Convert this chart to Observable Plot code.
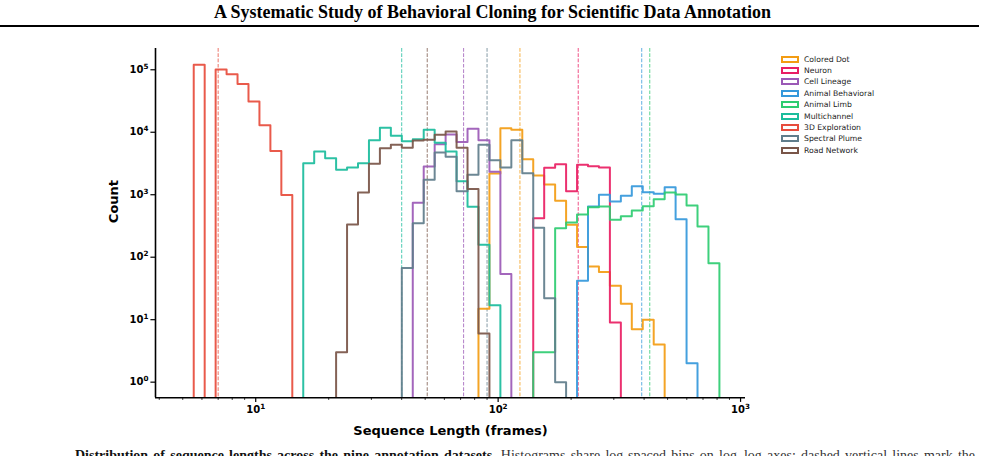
<!DOCTYPE html>
<html>
<head>
<meta charset="utf-8">
<script src="https://cdn.jsdelivr.net/npm/d3@7"></script>
<script src="https://cdn.jsdelivr.net/npm/@observablehq/plot@0.6"></script>
<style>
  html, body { margin: 0; padding: 0; background: #fff; }
  body { width: 985px; height: 456px; overflow: hidden; position: relative; font-family: "DejaVu Sans", sans-serif; }
  #title { position: absolute; left: 0; top: 2px; width: 985px; text-align: center; font: bold 18px "Liberation Serif", "Times New Roman", serif; color: #000; }
  #rule { position: absolute; left: 0; top: 25px; width: 979px; height: 2px; background: #000; }
  #chart { position: absolute; left: 0; top: 40px; }
  #legend { position: absolute; left: 0; top: 0; }
  .lg-box { position: absolute; box-sizing: border-box; width: 17.7px; height: 7px; border: 2px solid; background: #fff; }
  .lg-txt { position: absolute; font-size: 7.7px; line-height: 9px; color: #222; white-space: nowrap; }
  #caption { position: absolute; left: 75px; top: 448px; width: 900px; text-align: justify; font: 14px/16px "Liberation Serif", serif; color: #333; }
  #caption b { color: #111; }
  #chart svg g[aria-label="x-axis tick label"] text,
  #chart svg g[aria-label="y-axis tick label"] text { font-weight: bold; }
</style>
</head>
<body>
<div id="title">A Systematic Study of Behavioral Cloning for Scientific Data Annotation</div>
<div id="rule"></div>
<div id="chart"></div>
<div id="legend"></div>
<div id="caption"><b>Distribution of sequence lengths across the nine annotation datasets.</b> Histograms share log-spaced bins on log–log axes; dashed vertical lines mark the median sequence length of each dataset.</div>
<script>
// Datasets, in legend order
const names = ["Colored Dot", "Neuron", "Cell Lineage", "Animal Behavioral", "Animal Limb",
               "Multichannel", "3D Exploration", "Spectral Plume", "Road Network"];
const colors = ["#f39c12", "#e91e63", "#9b59b6", "#3498db", "#2ecc71",
                "#1abc9c", "#e74c3c", "#607d8b", "#795548"];

// Shared log-spaced bins (frames)
const binEdgeMin = 5.55;
const binEdgeMax = 818;
const binTotal = 48;

// Index of the first occupied bin for each dataset
const firstBin = [26, 31, 20, 35, 31, 10, 0, 19, 13];

// Median sequence length (frames) per dataset
const medians = [123, 214, 72, 391, 422, 40, 7, 90, 51];

// Per-bin counts, starting at firstBin
const coloredDotCounts = [15, 2190, 11600, 10960, 3710, 2030, 1460, 800, 331, 145, 71, 58, 35, 18, 7, 10, 4];
const neuronCounts = [422, 2700, 3080, 1140, 3010, 2860, 2730, 9];
const cellLineageCounts = [743, 2830, 6450, 9200, 6950, 11370, 7470, 2330, 54];
const animalBehavioralCounts = [42, 650, 998, 780, 962, 1370, 1100, 1035, 1320, 406, 2];
const animalLimbCounts = [3, 3, 292, 360, 483, 632, 649, 397, 454, 560, 656, 849, 1090, 1010, 673, 311, 80];
const multichannelCounts = [3200, 4920, 3850, 2510, 2730, 3200, 7470, 11800, 8790, 7200, 7740, 10960, 6790, 4920, 1650, 641, 158, 17];
const exploration3dCounts = [120000, 0, 101000, 85000, 59000, 31000, 13000, 5000, 990];
const spectralPlumeCounts = [67, 351, 1735, 4750, 4050, 1140, 2090, 6300, 3570, 2730, 7470, 2210, 296, 22, 1];
const roadNetworkCounts = [3, 334, 1090, 3130, 5560, 6300, 5650, 7390, 7600, 9100, 10300, 5650, 1230, 6];

const countsByDataset = [coloredDotCounts, neuronCounts, cellLineageCounts, animalBehavioralCounts,
  animalLimbCounts, multichannelCounts, exploration3dCounts, spectralPlumeCounts, roadNetworkCounts];

// Axis tick values
const xMajorTicks = [10, 100, 1000];
const xMinorTicks = [4, 5, 6, 7, 8, 9, 20, 30, 40, 50, 60, 70, 80, 90, 200, 300, 400, 500, 600, 700, 800, 900];
const yTicks = [1, 10, 100, 1000, 10000, 100000];

// Scale extents
const xDomain = [3.86, 1048];
const yDomain = [0.562, 2.19e5];
const belowAxis = 0.3; // empty bins drop below the axis and are clipped

const edges = d3.range(binTotal + 1).map(i => binEdgeMin * Math.pow(binEdgeMax / binEdgeMin, i / binTotal));

// Step outline of each histogram, as drawn by histtype="step"
const steps = [];
names.forEach((name, k) => {
  const counts = countsByDataset[k];
  const b0 = firstBin[k];
  const val = c => (c > 0 ? c : belowAxis);
  steps.push({name, x: edges[b0], y: belowAxis});
  counts.forEach((c, i) => steps.push({name, x: edges[b0 + i], y: val(c)}));
  const end = b0 + counts.length;
  steps.push({name, x: edges[end], y: val(counts[counts.length - 1])});
  steps.push({name, x: edges[end], y: belowAxis});
});

const medianRows = names.map((name, k) => ({name, median: medians[k]}));

// Tick labels are written as "10^k" and then typeset with a raised exponent
const powLabel = d => "10^" + Math.round(Math.log10(d));

const chart = Plot.plot({
  width: 985,
  height: 416,
  marginLeft: 155,
  marginRight: 240,
  marginTop: 8,
  marginBottom: 58.7,
  style: {fontFamily: "DejaVu Sans, sans-serif", background: "transparent", color: "#000"},
  x: {type: "log", domain: xDomain},
  y: {type: "log", domain: yDomain},
  color: {domain: names, range: colors},
  marks: [
    Plot.ruleX(medianRows, {x: "median", stroke: "name", strokeWidth: 1.1, strokeOpacity: 0.7, strokeDasharray: "3.7,1.6"}),
    Plot.line(steps, {x: "x", y: "y", z: "name", stroke: "name", curve: "step-after", strokeWidth: 2, strokeOpacity: 0.92, clip: true}),
    Plot.axisX({ticks: xMinorTicks, tickSize: 2.6, tickFormat: () => "", strokeWidth: 0.8, label: null}),
    Plot.axisX({ticks: xMajorTicks, tickSize: 4.6, tickPadding: 3, tickFormat: powLabel, fontSize: 10, fontWeight: "bold", strokeWidth: 1.2, label: null}),
    Plot.axisY({ticks: yTicks, tickSize: 4.6, tickPadding: 2.5, tickFormat: powLabel, fontSize: 10, fontWeight: "bold", strokeWidth: 1.2, label: null}),
    Plot.ruleX([xDomain[0]], {stroke: "#000", strokeWidth: 1.6}),
    Plot.ruleY([yDomain[0]], {stroke: "#000", strokeWidth: 1.6}),
    Plot.text(["Count"], {frameAnchor: "left", dx: -42, rotate: -90, fontSize: 13, fontWeight: "bold", text: d => d}),
    Plot.text(["Sequence Length (frames)"], {frameAnchor: "bottom", dy: 33, lineAnchor: "middle", fontSize: 13, fontWeight: "bold", text: d => d})
  ]
});

// Typeset "10^k" tick labels with a smaller raised exponent
const svgNS = "http://www.w3.org/2000/svg";
chart.querySelectorAll('g[aria-label$="tick label"] text').forEach(t => {
  const s = t.textContent;
  if (!s.includes("^")) return;
  const [base, exp] = s.split("^");
  t.textContent = "";
  const b = document.createElementNS(svgNS, "tspan");
  b.textContent = base;
  const e = document.createElementNS(svgNS, "tspan");
  e.textContent = exp;
  e.setAttribute("font-size", "7.2");
  e.setAttribute("dy", "-4");
  t.appendChild(b);
  t.appendChild(e);
});
document.getElementById("chart").appendChild(chart);

// Legend: outlined patches like step-histogram handles
const legend = document.getElementById("legend");
names.forEach((name, i) => {
  const cy = 59 + i * 11.4;
  const box = document.createElement("div");
  box.className = "lg-box";
  box.style.left = "781px";
  box.style.top = (cy - 3.5) + "px";
  box.style.borderColor = colors[i];
  legend.appendChild(box);
  const txt = document.createElement("div");
  txt.className = "lg-txt";
  txt.style.left = "804px";
  txt.style.top = (cy - 4.5) + "px";
  txt.textContent = name;
  legend.appendChild(txt);
});
</script>
</body>
</html>
